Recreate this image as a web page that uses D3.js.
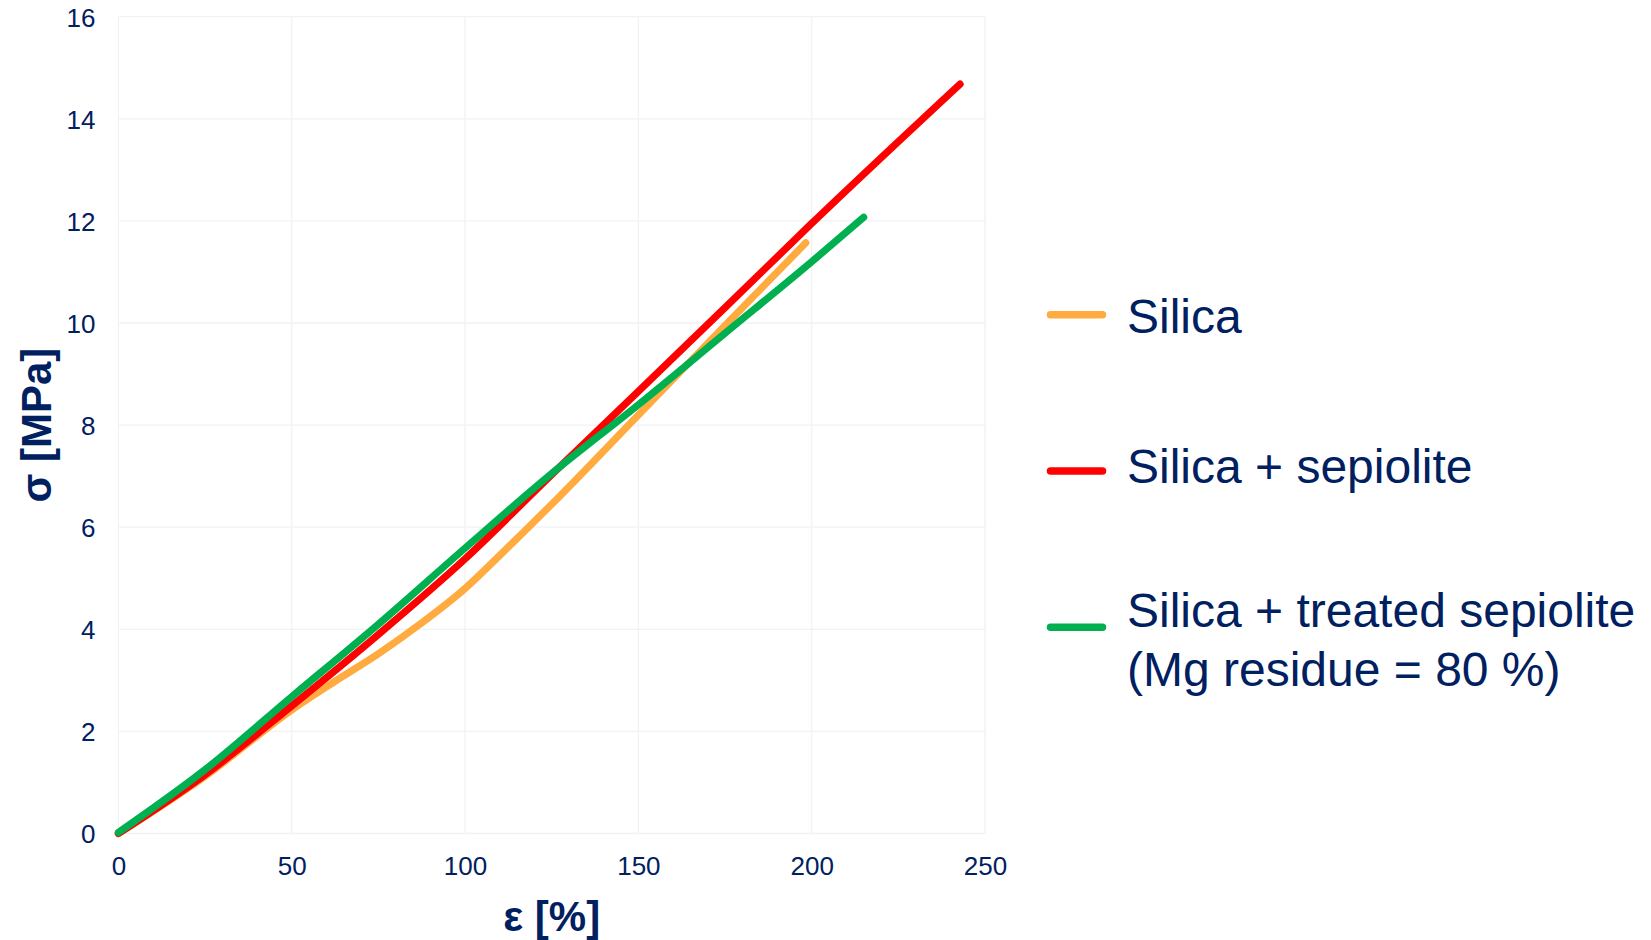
<!DOCTYPE html>
<html>
<head>
<meta charset="utf-8">
<script src="https://cdn.jsdelivr.net/npm/d3@7"></script>
<style>
  html, body { margin: 0; padding: 0; background: #ffffff; }
  svg { display: block; }
  text { font-family: "Liberation Sans", Arial, sans-serif; fill: #002060; }
</style>
</head>
<body>
<svg id="chart" width="1651" height="940"></svg>
<script>
// ---- Data ----
const xTicks = [0, 50, 100, 150, 200, 250];
const yTicks = [0, 2, 4, 6, 8, 10, 12, 14, 16];

// strain ε [%] , stress σ [MPa]
const silica = [
  [0, 0], [25, 1.12], [50, 2.42], [62, 2.96], [75, 3.52], [87, 4.1], [100, 4.8],
  [112, 5.58], [125, 6.45], [150, 8.2], [175, 9.95], [198.3, 11.57]
];
const silicaSepiolite = [
  [0, 0], [25, 1.15], [50, 2.5], [75, 3.9], [100, 5.38], [125, 7.03],
  [150, 8.66], [175, 10.3], [200, 11.95], [242.8, 14.68]
];
const silicaTreated = [
  [0, 0.02], [25, 1.25], [50, 2.68], [75, 4.1], [100, 5.59], [125, 7.05],
  [150, 8.4], [175, 9.8], [200, 11.2], [215, 12.07]
];

const seriesNames = ["Silica", "Silica + sepiolite", "Silica + treated sepiolite"];
const seriesColors = ["#ffab40", "#ff0000", "#00b050"];
const seriesData = [silica, silicaSepiolite, silicaTreated];
const legendLines = [["Silica"], ["Silica + sepiolite"], ["Silica + treated sepiolite", "(Mg residue = 80 %)"]];

const xTitle = "ε [%]";
const yTitle = "σ [MPa]";

// ---- Layout ----
const svg = d3.select("#chart");
const plot = { left: 118.4, right: 985, top: 16.7, bottom: 833.5 };

const x = d3.scaleLinear().domain([0, 250]).range([plot.left, plot.right]);
const y = d3.scaleLinear().domain([0, 16]).range([plot.bottom, plot.top]);

// gridlines
const grid = svg.append("g").attr("stroke", "#f2f2f2").attr("stroke-width", 1.3);
grid.selectAll("line.v").data(xTicks).enter().append("line")
  .attr("x1", d => x(d)).attr("x2", d => x(d))
  .attr("y1", plot.top).attr("y2", plot.bottom);
grid.selectAll("line.h").data(yTicks).enter().append("line")
  .attr("y1", d => y(d)).attr("y2", d => y(d))
  .attr("x1", plot.left).attr("x2", plot.right);

// axes (labels only)
const xAxis = svg.append("g")
  .attr("transform", `translate(0,${plot.bottom})`)
  .call(d3.axisBottom(x).tickValues(xTicks).tickSize(0).tickPadding(23.5).tickFormat(d3.format("d")));
const yAxis = svg.append("g")
  .attr("transform", `translate(${plot.left},0)`)
  .call(d3.axisLeft(y).tickValues(yTicks).tickSize(0).tickPadding(23).tickFormat(d3.format("d")));
[xAxis, yAxis].forEach(a => {
  a.select(".domain").remove();
  a.selectAll("text")
    .attr("font-family", "'Liberation Sans', Arial, sans-serif")
    .attr("font-size", 26).attr("fill", "#002060");
});
yAxis.selectAll("text").attr("dy", "0.36em");

// axis titles
svg.append("text")
  .attr("x", (plot.left + plot.right) / 2).attr("y", 931)
  .attr("text-anchor", "middle").attr("font-size", 42).attr("font-weight", "bold")
  .text(xTitle);
svg.append("text")
  .attr("transform", `translate(51,${(plot.top + plot.bottom) / 2}) rotate(-90)`)
  .attr("text-anchor", "middle").attr("font-size", 42).attr("font-weight", "bold")
  .text(yTitle);

// lines
const line = d3.line().x(d => x(d[0])).y(d => y(d[1])).curve(d3.curveMonotoneX);
svg.append("g").selectAll("path").data(seriesData).enter().append("path")
  .attr("d", d => line(d))
  .attr("fill", "none")
  .attr("stroke", (d, i) => seriesColors[i])
  .attr("stroke-width", 7.2)
  .attr("stroke-linecap", "round")
  .attr("stroke-linejoin", "round");

// legend
const legendLineY = [314.7, 471, 627.3];
const legendTextY = [333, 483.3, 626.7];
const lg = svg.append("g");
seriesNames.forEach((name, i) => {
  lg.append("line")
    .attr("x1", 1050.5).attr("x2", 1102.5)
    .attr("y1", legendLineY[i]).attr("y2", legendLineY[i])
    .attr("stroke", seriesColors[i]).attr("stroke-width", 7.5)
    .attr("stroke-linecap", "round");
  const t = lg.append("text")
    .attr("x", 1127).attr("y", legendTextY[i])
    .attr("font-size", 48);
  legendLines[i].forEach((ln, j) => {
    t.append("tspan").attr("x", 1127).attr("dy", j === 0 ? 0 : 59.3).text(ln);
  });
});
</script>
</body>
</html>
